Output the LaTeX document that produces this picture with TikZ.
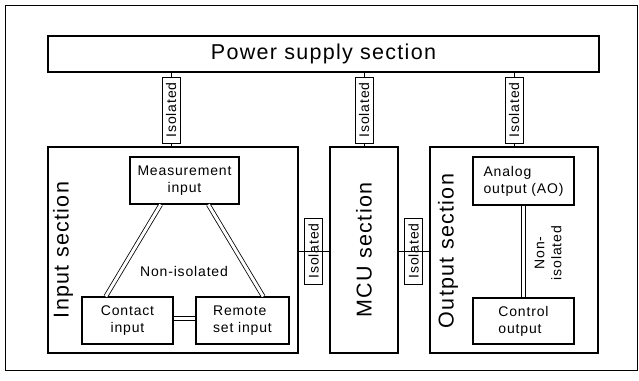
\documentclass[tikz,border=0pt]{standalone}
\usepackage{fontspec}
\setmainfont{Liberation Sans}[LetterSpace=6]
\usetikzlibrary{calc}
\tikzset{>=latex}

\begin{document}
\begin{tikzpicture}[x=1pt, y=-1pt,
    sect/.style={draw, line width=1.2pt, inner sep=0pt, minimum height=206pt},
    seclbl/.style={rotate=90, inner sep=0pt, font=\fontsize{21.5}{24}\selectfont},
    blk/.style={draw, line width=1.1pt, inner sep=0pt, font=\fontsize{14}{17}\selectfont},
    iso/.style={draw, line width=1pt, rotate=90, inner sep=0pt, minimum width=66pt, minimum height=18pt, font=\fontsize{14}{15}\selectfont},
    wire/.style={line width=1pt},
    dbl/.style={double, double distance=3pt, line width=.8pt}]
    \useasboundingbox(0, 0)rectangle(639, 380);
    \draw[line width=1pt](5, 5)rectangle(637, 370);
    % sections
    \node[draw, line width=1.2pt, minimum width=551pt, minimum height=36pt, inner sep=0pt, font=\fontsize{21.5}{24}\selectfont](power)at(323.5, 54){Power supply section};
    \node[sect, minimum width=250pt](input)at(173, 250){};
    \node[sect, minimum width=68pt](mcu)at(364, 250){};
    \node[sect, minimum width=168pt](output)at(514, 250){};
    \node[seclbl](inlbl)at(63, 250){Input section};
    \node[seclbl](mculbl)at(364, 250){MCU section};
    \node[seclbl](outlbl)at(448, 251){Output section};
    % blocks
    \node[blk, minimum width=109pt, minimum height=47pt, align=center](meas)at(184.5, 180.5){Measurement\\input};
    \node[blk, minimum width=91pt, minimum height=47pt, align=center](contact)at(127.5, 320.5){Contact\\input};
    \node[blk, minimum width=93pt, minimum height=47pt, align=left](remote)at(242.5, 320.5){Remote\\set input};
    \node[blk, minimum width=101pt, minimum height=48pt, align=left](ao)at(523.5, 181){Analog\\output (AO)};
    \node[blk, minimum width=101pt, minimum height=46pt, align=left](ctrl)at(523.5, 321){Control\\output};
    % isolation
    \node[iso](iso1)at(171, 110){Isolated};
    \node[iso](iso2)at(364, 110){Isolated};
    \node[iso](iso3)at(514, 110){Isolated};
    \node[iso](iso4)at(313.5, 251){Isolated};
    \node[iso](iso5)at(413.5, 251){Isolated};
    \foreach \i/\s in {iso1/input, iso2/mcu, iso3/output}{
        \draw[wire](power.south -| \i)--(\i.east);
        \draw[wire](\i.west)--(\i.west |- \s.north);
    }
    \draw[wire](input.east |- iso4)--(iso4.south);
    \draw[wire](iso4.north)--(iso4 -| mcu.west);
    \draw[wire](mcu.east |- iso5)--(iso5.south);
    \draw[wire](iso5.north)--(iso5 -| output.west);
    % non-isolated links
    \draw[dbl]($(meas.south west)!.284!(meas.south east)$)--($(contact.north west)!.264!(contact.north east)$);
    \draw[dbl]($(meas.south west)!.716!(meas.south east)$)--($(remote.north west)!.72!(remote.north east)$);
    \draw[dbl]($(contact.east)+(0, -2)$)--($(remote.west)+(0, -2)$);
    \draw[dbl](ao.south)--(ctrl.north);
    \node[font=\fontsize{14}{17}\selectfont](nonin)at(184, 271){Non-isolated};
    \node[rotate=90, align=center, font=\fontsize{14}{17}\selectfont](nonout)at(548, 253){Non-\\isolated};
\end{tikzpicture}
\end{document}
